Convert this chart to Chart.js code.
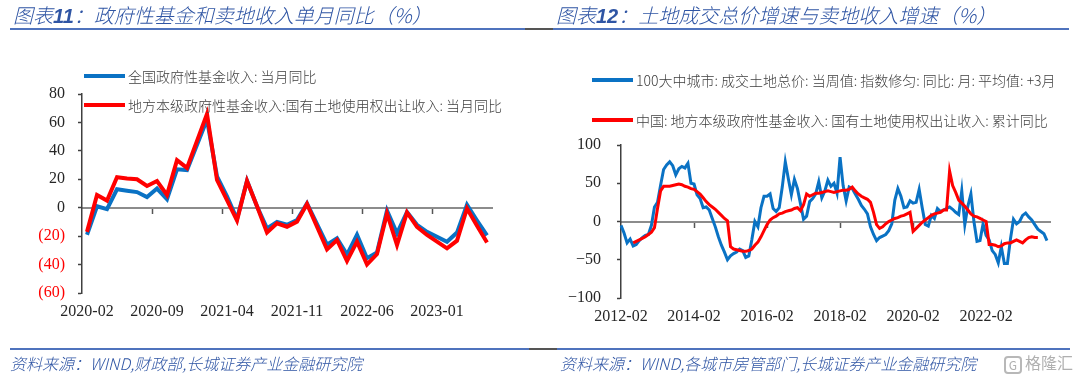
<!DOCTYPE html>
<html>
<head>
<meta charset="utf-8">
<script src="https://cdn.jsdelivr.net/npm/chart.js@4.4.0/dist/chart.umd.min.js"></script>
<style>
  body { margin: 0; width: 1080px; height: 376px; background: #fff; position: relative; overflow: hidden;
         font-family: "Noto Sans CJK SC", sans-serif; }
  canvas { position: absolute; top: 0; }
  .txt { position: absolute; white-space: nowrap; z-index: 2; }
  .title { top: 4px; font-size: 20px; line-height: 22px; color: #2f55a4; font-style: italic; font-weight: 300; }
  .title b { font-family: "Liberation Sans", sans-serif; font-weight: bold; }
  .rule { position: absolute; height: 2px; z-index: 2; }
  .leg { font-size: 14px; line-height: 16px; color: #404040; font-weight: 300; }
  .swatch { position: absolute; height: 4px; width: 41px; z-index: 2; }
  .src { top: 353px; font-size: 16px; line-height: 20px; color: #2f55a4; font-style: italic; font-weight: 300; }
  .mark { left: 1004px; top: 352px; font-size: 16px; line-height: 20px; color: #b0b0b0; }
  .mark span { display: inline-block; border: 2px solid #b8b8b8; border-radius: 4px; width: 14px; height: 14px;
               line-height: 14px; font-size: 12px; text-align: center; margin-right: 3px; vertical-align: -1px; }
</style>
</head>
<body>
<canvas id="leftChart" width="540" height="376" style="left:0"></canvas>
<canvas id="rightChart" width="540" height="376" style="left:540px"></canvas>

<div class="txt title" style="left:13px">图表<b>11</b>：政府性基金和卖地收入单月同比（%）</div>
<div class="txt title" style="left:556px">图表<b>12</b>：土地成交总价增速与卖地收入增速（%）</div>
<div class="rule" style="left:10px;width:515px;top:28px;background:#4f73bd"></div>
<div class="rule" style="left:525px;width:28px;top:28px;background:#555"></div>
<div class="rule" style="left:553px;width:516px;top:28px;background:#4f73bd"></div>

<div class="swatch" style="left:84px;top:74px;background:#0a72c4"></div>
<div class="txt leg" style="left:128px;top:68px">全国政府性基金收入: 当月同比</div>
<div class="swatch" style="left:84px;top:103px;background:#ff0000"></div>
<div class="txt leg" style="left:128px;top:97px">地方本级政府性基金收入:国有土地使用权出让收入: 当月同比</div>

<div class="swatch" style="left:592px;top:78px;background:#0a72c4"></div>
<div class="txt leg" style="left:636px;top:72px">100大中城市: 成交土地总价: 当周值: 指数修匀: 同比: 月: 平均值: +3月</div>
<div class="swatch" style="left:592px;top:118px;background:#ff0000"></div>
<div class="txt leg" style="left:636px;top:112px">中国: 地方本级政府性基金收入: 国有土地使用权出让收入: 累计同比</div>

<div class="rule" style="left:10px;width:519px;top:348px;background:#4f73bd"></div>
<div class="rule" style="left:529px;width:28px;top:348px;background:#555"></div>
<div class="rule" style="left:557px;width:513px;top:348px;background:#4f73bd"></div>
<div class="txt src" style="left:10px">资料来源：WIND,财政部,长城证券产业金融研究院</div>
<div class="txt src" style="left:560px">资料来源：WIND,各城市房管部门,长城证券产业金融研究院</div>
<div class="txt mark"><span>G</span>格隆汇</div>

<script>
// ---- left chart: monthly YoY, 2020-02 .. 2023-06 (January not published) ----
const leftStart = [2020, 2];
const leftMonths = 41;
const leftTickLabels = ['2020-02', '2020-09', '2021-04', '2021-11', '2022-06', '2023-01'];
const leftBlue = [-19, 1, -1, 13, 12, 11, 7.5, 13.5, 6, 27, 26.5,
  null, 62, 22, 8, -8, 19, 1, -14.5, -10, -12, -8.7, 3,
  null, -26, -21.5, -33, -19, -35.5, -31.5, -2, -18, -3, -12, -17,
  null, -24, -17.5, 2, -9, -19.5];
const leftRed = [-17, 9, 5, 21.5, 20.5, 20, 15.3, 18.8, 9, 33.4, 28,
  null, 66, 19.5, 5.4, -9, 18.8, 1, -17.5, -11, -13.4, -9.8, 2.6,
  null, -29.3, -22.7, -37.5, -23.9, -39.9, -32.6, -4, -26.3, -3.3, -13.4, -19.2,
  null, -28.6, -23.2, -0.5, -12.7, -24.5];

// ---- right chart: 2012-02 .. 2023-11 ----
const rightStart = [2012, 2];
const rightMonths = 142;
const rightTickLabels = ['2012-02', '2014-02', '2016-02', '2018-02', '2020-02', '2022-02'];
const rightBlue = [
  -5, -15, -28, -23, -32, -30, -25, -21, -18, -17,
  -5, 19, 25, 47, 68, 74, 78, 73, 61, 69,
  72, 70, 76, 50, 49, 35, 30, 18, 19, 15,
  4, -7, -20, -31, -40, -50, -45, -42, -40, -36,
  -38, -47, -45, -24, 0, -7, 18, 33, 33, 36,
  17, 13, 18, 45, 78, 56, 35, 55, 43, 23,
  3, 7, 26, 30, 36, 52, 31, 40, 54, 46,
  50, 37, 84, 47, 27, 45, 43, 36, 29, 21,
  16, 10, -7, -17, -25, -21, -19, -17, -12, -3,
  28, 43, 33, 18, 19, 27, 24, 25, 42, 18,
  -4, -6, 8, 4, 17, 13, 15, 17, 19, 16,
  12, 9, 40, -4, 20, 36, 0, -26, -25, -3,
  -18, -24, -38, -43, -54, -33, -55, -55, -23, 3,
  -3, 0, 8, 11, 6, 2, -4, -10, -13, -16,
  -25];
const rightRed = [
  null, null, null, null, -28, -26, -24, -22, -20, -17,
  -14, -8, 17, 40, 46, 46, 46, 47, 48, 49,
  48, 46, 45, 43, 42, 39, 36, 31, 26, 22,
  19, 16, 12, 8, 4, 1, -33, -36, -37, -38,
  -39, -39, -38, -36, -31, -27, -20, -12, -4, 2,
  5, 7, 10, 11, 13, 14, 15, 17, 18, 14,
  22, 36, 33, 35, 37, 37, 38, 39, 40, 39,
  38, 39, 40, 41, 41, 42, 45, 40, 36, 33,
  31, 29, 25, 12, -4, -9, -7, -3, 0, 2,
  4, 5, 7, 8, 10, 12, -13, -9, -5, -1,
  2, 5, 8, 10, 11, 12, 15, 15, 66, 47,
  38, 28, 24, 20, 15, 10, 7, 6, 4, 2,
  0, -30, -30, -31, -33, -32, -29, -28, -28, -26,
  -24, -26, -28, -24, -21, -20, -21, -21];

const BLUE = '#0a72c4';
const RED = '#ff0000';

function monthLabels(start, n) {
  const out = [];
  let [y, m] = start;
  for (let i = 0; i < n; i++) {
    out.push(y + '-' + String(m).padStart(2, '0'));
    m++;
    if (m > 12) { m = 1; y++; }
  }
  return out;
}

Chart.defaults.font.family = '"Liberation Serif", "Times New Roman", serif';
Chart.defaults.font.size = 16;
Chart.defaults.color = '#262626';

function buildChart(id, cfg) {
  const labels = cfg.labels;
  const isTick = i => i > 0 && cfg.tickLabels.includes(labels[i]);
  return new Chart(document.getElementById(id), {
    type: 'line',
    data: {
      labels: labels,
      datasets: [
        { label: 'blue', data: cfg.blue, borderColor: BLUE, borderWidth: cfg.lineWidth, order: 1 },
        { label: 'red', data: cfg.red, borderColor: RED, borderWidth: cfg.lineWidth, order: 0 }
      ]
    },
    options: {
      responsive: false,
      animation: false,
      devicePixelRatio: 1,
      spanGaps: true,
      layout: { padding: cfg.padding },
      elements: { point: { radius: 0 }, line: { tension: 0 } },
      plugins: { legend: { display: false }, tooltip: { enabled: false } },
      scales: {
        // axis line through zero, with tick marks
        x: {
          type: 'category',
          position: { y: 0 },
          offset: cfg.offset,
          grid: {
            offset: cfg.offset, drawOnChartArea: false, drawTicks: true, tickLength: 5,
            color: 'transparent', tickWidth: 1.5,
            tickColor: ctx => isTick(ctx.index) ? '#555' : 'transparent'
          },
          border: { color: '#8c8c8c', width: 2 },
          ticks: { display: false, autoSkip: false }
        },
        // date labels at the bottom
        x2: {
          type: 'category',
          position: 'bottom',
          offset: cfg.offset,
          grid: { display: false, drawTicks: false },
          border: { display: false },
          ticks: {
            autoSkip: false, maxRotation: 0, minRotation: 0, padding: 9,
            callback: (v, i) => cfg.tickLabels.includes(labels[i]) ? labels[i] : ''
          },
          afterFit: s => { s.height = 40; }
        },
        y: {
          min: cfg.yMin, max: cfg.yMax,
          ticks: {
            stepSize: cfg.yStep, padding: cfg.yPad,
            color: cfg.yColor,
            callback: cfg.yFormat
          },
          grid: { drawOnChartArea: false, tickLength: 4, tickWidth: 1.5, tickColor: '#404040' },
          border: { color: '#404040', width: 1.5 },
          afterFit: s => { s.width = cfg.yWidth; }
        }
      }
    }
  });
}

buildChart('leftChart', {
  labels: monthLabels(leftStart, leftMonths),
  tickLabels: leftTickLabels,
  blue: leftBlue, red: leftRed,
  lineWidth: 4, offset: true,
  padding: { left: 0, top: 94, right: 48, bottom: 43 },
  yMin: -60, yMax: 80, yStep: 20, yWidth: 82, yPad: 13,
  yColor: ctx => ctx.tick && ctx.tick.value < 0 ? '#ff0000' : '#262626',
  yFormat: v => v < 0 ? '(' + (-v) + ')' : String(v)
});

buildChart('rightChart', {
  labels: monthLabels(rightStart, rightMonths),
  tickLabels: rightTickLabels,
  blue: rightBlue, red: rightRed,
  lineWidth: 3, offset: false,
  padding: { left: 0, top: 145, right: 30, bottom: 38 },
  yMin: -100, yMax: 100, yStep: 50, yWidth: 81, yPad: 16,
  yColor: '#262626',
  yFormat: v => v < 0 ? '\u2212' + (-v) : String(v)
});
</script>
</body>
</html>
